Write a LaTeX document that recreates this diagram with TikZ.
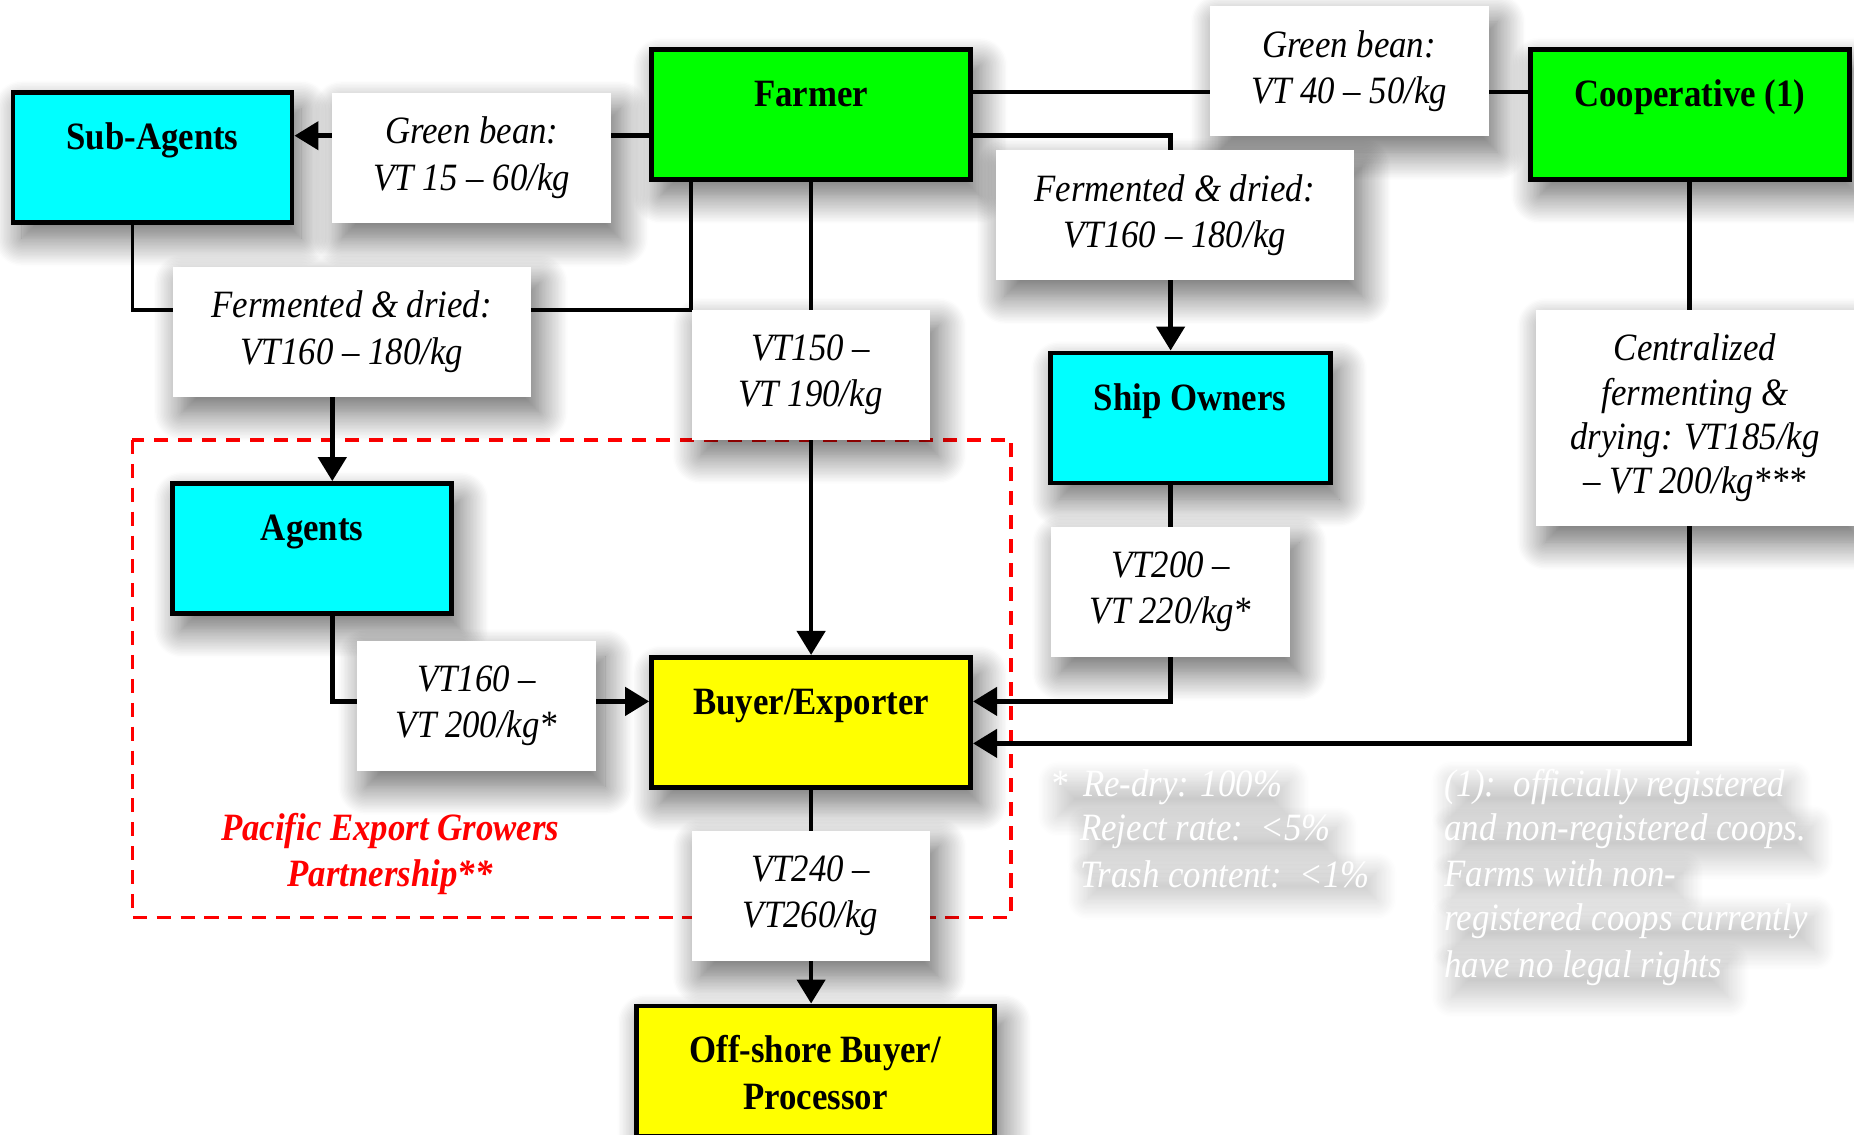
\documentclass[tikz,border=0pt]{standalone}
\usepackage{fontspec}
\setmainfont{Liberation Serif}[FakeStretch=0.9]
\usepackage{tikz}
\usetikzlibrary{arrows.meta,positioning,shadows.blur,backgrounds}
\definecolor{boxcyan}{RGB}{0,255,255}
\definecolor{boxgreen}{RGB}{0,255,0}
\definecolor{boxyellow}{RGB}{255,255,0}
\newcommand{\chartsize}{\fontsize{11}{13.2}\selectfont}

\begin{document}
\begin{tikzpicture}[
  dropshadow/.style={blur shadow={shadow xshift=0.9mm, shadow yshift=-1.6mm, shadow blur radius=2.8mm, shadow blur steps=20, shadow opacity=60}},
  box/.style={draw, line width=1.4pt, inner sep=0pt, align=center, font=\chartsize\bfseries, text height=5.7mm, text depth=7.3mm, dropshadow},
  price/.style={fill=white, inner sep=0pt, align=center, font=\chartsize\itshape, minimum height=1.3cm, dropshadow},
  note/.style={text=white, font=\chartsize\itshape, inner sep=0pt, anchor=base west, blur shadow={shadow xshift=0.7mm, shadow yshift=-1.2mm, shadow blur radius=2mm, shadow blur steps=16, shadow opacity=22}},
  arr/.style={-{Triangle[length=2.4mm, width=2.8mm]}, line width=1.3pt},
  link/.style={line width=1.1pt}
]
\useasboundingbox (0,0) rectangle (18.54,-11.35);

% trading parties
\node[box, fill=boxcyan, minimum width=2.79cm] (subag) at (1.525,-1.573) {Sub-Agents};
\node[box, fill=boxgreen, minimum width=3.19cm] (farmer) at (8.111,-1.147) {Farmer};
\node[box, fill=boxgreen, minimum width=3.19cm] (coop) at (16.897,-1.147) {Cooperative (1)};
\node[box, fill=boxcyan, minimum width=2.80cm] (shipown) at (11.901,-4.180) {Ship Owners};
\node[box, fill=boxcyan, minimum width=2.79cm] (agents) at (3.122,-5.486) {Agents};
\node[box, fill=boxyellow, minimum width=3.19cm] (buyer) at (8.111,-7.224) {Buyer/Exporter};
\node[box, fill=boxyellow, minimum width=3.58cm, text height=10.3mm, text depth=2.7mm] (offshore) at (8.153,-10.71) {Off-shore Buyer/\\Processor};

% prices along the chain
\node[price, minimum width=2.79cm] (lbgba) at (4.718,-1.578) {Green bean:\\VT 15 -- 60/kg};
\node[price, minimum width=2.79cm] (lbgbb) at (13.491,-0.710) {Green bean:\\VT 40 -- 50/kg};
\node[price, minimum width=3.58cm] (lbfdr) at (11.747,-2.152) {Fermented \& dried:\\VT160 -- 180/kg};
\node[price, minimum width=3.58cm] (lbfdl) at (3.518,-3.317) {Fermented \& dried:\\VT160 -- 180/kg};
\node[price, minimum width=2.38cm] (lbfarm) at (8.105,-3.748) {VT150 --\\VT 190/kg};
\node[price, minimum width=3.18cm, minimum height=2.16cm, font=\fontsize{11}{12.6}\selectfont\itshape] (lbcent) at (16.950,-4.180) {Centralized\\fermenting \&\\drying: VT185/kg\\-- VT 200/kg***};
\node[price, minimum width=2.39cm] (lbship) at (11.706,-5.918) {VT200 --\\VT 220/kg*};
\node[price, minimum width=2.39cm] (lbagent) at (4.765,-7.059) {VT160 --\\VT 200/kg*};
\node[price, minimum width=2.38cm] (lbbuyer) at (8.105,-8.957) {VT240 --\\VT260/kg};

\node[font=\chartsize\bfseries\itshape, text=red, align=center] (pegp) at (3.902,-8.54) {Pacific Export Growers\\Partnership**};

% footnotes
\node[note] (nta) at (10.50,-7.96) {*\hspace{0.15cm}Re-dry: 100\%};
\node[note] (ntb) at (10.795,-8.40) {Reject rate:\ \ <5\%};
\node[note] (ntc) at (10.795,-8.87) {Trash content:\ \ <1\%};
\node[note] (ntd) at (14.437,-7.96) {(1):\ \ officially registered};
\node[note] (nte) at (14.437,-8.40) {and non-registered coops.};
\node[note] (ntf) at (14.437,-8.86) {Farms with non-};
\node[note] (ntg) at (14.437,-9.30) {registered coops currently};
\node[note] (nth) at (14.437,-9.77) {have no legal rights};

\coordinate (agjoin) at (3.323,-3.098);

\begin{scope}[on background layer]
\draw[red, line width=1pt, dash pattern=on 4pt off 2.8pt] (1.324,-4.399) rectangle (10.110,-9.175);
\draw[arr] ([yshift=-2.1mm]farmer.west) -- ([yshift=-2.1mm]farmer.west -| subag.east);
\draw[link] ([yshift=2.25mm]farmer.east) -- ([yshift=2.25mm]coop.west);
\draw[arr] ([yshift=-2.1mm]farmer.east) -| ([xshift=-1.95mm]shipown.north);
\draw[arr] (farmer.south) -- (buyer.north);
\draw[link] ([xshift=-2mm]subag.south) |- (agjoin);
\draw[link] (farmer.south -| lbfarm.west) |- (agjoin);
\draw[arr] (agjoin) -- (agjoin |- agents.north);
\draw[arr] (agjoin |- agents.south) |- ([yshift=2.1mm]buyer.west);
\draw[arr] ([xshift=-1.95mm]shipown.south) |- ([yshift=2.1mm]buyer.east);
\draw[arr] (coop.south) |- ([yshift=-2.1mm]buyer.east);
\draw[arr] (buyer.south) -- (buyer.south |- offshore.north);
\end{scope}
\end{tikzpicture}
\end{document}
